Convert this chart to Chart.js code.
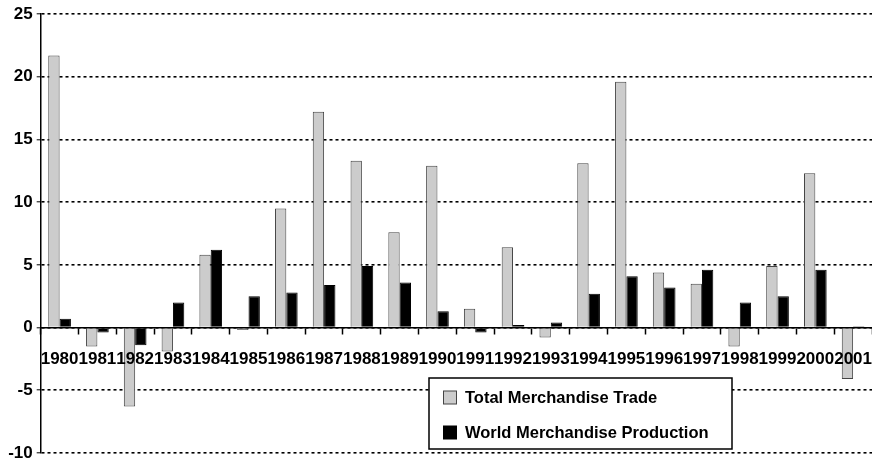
<!DOCTYPE html>
<html>
<head>
<meta charset="utf-8">
<script src="https://cdn.jsdelivr.net/npm/chart.js@4/dist/chart.umd.min.js"></script>
<style>
html,body{margin:0;padding:0;background:#fff;}
#wrap{width:872px;height:461px;position:relative;}
</style>
</head>
<body>
<div id="wrap"><canvas id="c" width="872" height="461"></canvas></div>
<script>
const years = ['1980','1981','1982','1983','1984','1985','1986','1987','1988','1989','1990','1991','1992','1993','1994','1995','1996','1997','1998','1999','2000','2001'];
const totalTrade = [21.7,-1.5,-6.3,-1.9,5.8,-0.2,9.5,17.2,13.3,7.6,12.9,1.5,6.4,-0.8,13.1,19.6,4.4,3.5,-1.5,4.9,12.3,-4.1];
const worldProduction = [0.7,-0.4,-1.4,2.0,6.2,2.5,2.8,3.4,4.9,3.6,1.3,-0.4,0.2,0.4,2.7,4.1,3.2,4.6,2.0,2.5,4.6,0.1];
const yTicks = [-10,-5,0,5,10,15,20,25];
const seriesNames = ['Total Merchandise Trade','World Merchandise Production'];

const FONT = '"Liberation Sans", Arial, sans-serif';

const legendBox = {
  id: 'legendBox',
  afterDraw(chart) {
    const ctx = chart.ctx;
    const x0 = 429, y0 = 378, w = 303, h = 71;
    ctx.save();
    ctx.fillStyle = '#fff';
    ctx.fillRect(x0, y0, w, h);
    ctx.strokeStyle = '#000';
    ctx.lineWidth = 1.5;
    ctx.strokeRect(x0, y0, w, h);
    const rows = [397.5, 432.5];
    chart.data.datasets.forEach((ds, i) => {
      const cy = rows[i];
      ctx.fillStyle = ds.backgroundColor;
      ctx.fillRect(443.5, cy - 6.5, 13, 13);
      ctx.strokeStyle = ds.borderColor;
      ctx.lineWidth = 1;
      ctx.strokeRect(443.5, cy - 6.5, 13, 13);
      ctx.fillStyle = '#000';
      ctx.font = 'bold 16.5px ' + FONT;
      ctx.textBaseline = 'middle';
      ctx.textAlign = 'left';
      ctx.fillText(ds.label, 465, cy + 0.5);
    });
    ctx.restore();
  }
};

new Chart(document.getElementById('c'), {
  type: 'bar',
  data: {
    labels: years,
    datasets: [
      { label: seriesNames[0], data: totalTrade, backgroundColor: '#cccccc', borderColor: '#444444', borderWidth: 1 },
      { label: seriesNames[1], data: worldProduction, backgroundColor: '#000000', borderColor: '#000000', borderWidth: 1 }
    ]
  },
  options: {
    responsive: false,
    animation: false,
    devicePixelRatio: 1,
    layout: { padding: { top: 14, bottom: 8, left: 0, right: 0 } },
    datasets: { bar: { barPercentage: 1.0, categoryPercentage: 0.6 } },
    plugins: { legend: { display: false }, tooltip: { enabled: false } },
    scales: {
      x: {
        position: { y: 0 },
        offset: true,
        grid: { offset: true, drawOnChartArea: false, drawTicks: true, tickLength: 6, tickColor: '#000', tickWidth: 1.5, z: 1 },
        border: { display: true, color: '#000', width: 1.5, z: 1 },
        ticks: { color: '#000', font: { family: FONT, size: 17, weight: 'bold' }, autoSkip: false, maxRotation: 0, minRotation: 0, padding: 16, z: 1 },
        afterFit(s) { s.paddingLeft = 0; s.paddingRight = 0; }
      },
      y: {
        min: -10, max: 25,
        afterBuildTicks(s) { s.ticks = yTicks.map(v => ({ value: v })); },
        grid: { color: '#000', lineWidth: 1.6, drawTicks: true, tickLength: 4, tickColor: '#000', tickWidth: 1 },
        border: { display: true, color: '#000', width: 1.5, dash: [3, 3] },
        ticks: { color: '#000', font: { family: FONT, size: 17, weight: 'bold' }, padding: 4 },
        afterFit(s) { s.width = 40.7; s.paddingTop = 0; s.paddingBottom = 0; }
      }
    }
  },
  plugins: [legendBox]
});
</script>
</body>
</html>
